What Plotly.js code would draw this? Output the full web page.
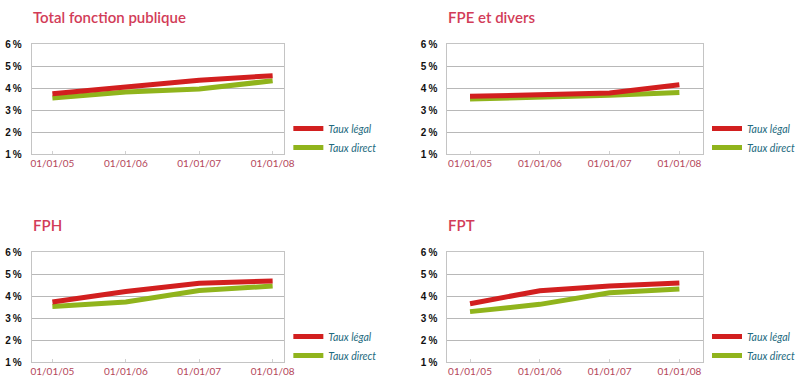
<!DOCTYPE html>
<html><head><meta charset="utf-8">
<script src="https://cdn.plot.ly/plotly-3.0.1.min.js"></script>
<style>html,body{margin:0;padding:0;background:#fff}#chart{width:800px;height:385px}</style>
</head><body><div id="chart"></div>
<script>
// Data
const dates = ["01/01/05", "01/01/06", "01/01/07", "01/01/08"];
const panelTitles = ["Total fonction publique", "FPE et divers", "FPH", "FPT"];
const seriesNames = ["Taux légal", "Taux direct"];
const totalLegal  = [3.74, 4.05, 4.35, 4.56];
const totalDirect = [3.55, 3.82, 3.95, 4.33];
const fpeLegal    = [3.62, 3.70, 3.77, 4.15];
const fpeDirect   = [3.50, 3.58, 3.67, 3.80];
const fphLegal    = [3.73, 4.20, 4.58, 4.68];
const fphDirect   = [3.52, 3.73, 4.25, 4.45];
const fptLegal    = [3.65, 4.24, 4.45, 4.59];
const fptDirect   = [3.29, 3.62, 4.15, 4.32];
const yTicks = [1, 2, 3, 4, 5, 6];
const yTickText = ["1\u2009%", "2\u2009%", "3\u2009%", "4\u2009%", "5\u2009%", "6\u2009%"];

const legalSets = [totalLegal, fpeLegal, fphLegal, fptLegal];
const directSets = [totalDirect, fpeDirect, fphDirect, fptDirect];

const W = 800, H = 385;
const RED = "#d21f1f", GREEN = "#90b41c";
const FONT = "Lato, 'Noto Sans', sans-serif";

// panel pixel boxes [x0, x1, yTop, yBottom]
const boxes = [[32, 288, 44, 154], [453, 712, 44, 154], [32, 288, 252, 362], [453, 712, 252, 362]];
const xr = [[-0.283, 3.16], [-0.325, 3.34], [-0.283, 3.16], [-0.325, 3.34]];

const traces = [];
const layout = {
  width: W, height: H, margin: {l: 0, r: 0, t: 0, b: 0},
  paper_bgcolor: "#fff", plot_bgcolor: "#fff",
  font: {family: FONT},
  annotations: [], showlegend: true
};

boxes.forEach((b, i) => {
  const n = i + 1;
  const xa = n === 1 ? "xaxis" : "xaxis" + n;
  const ya = n === 1 ? "yaxis" : "yaxis" + n;
  const xs = n === 1 ? "x" : "x" + n;
  const ys = n === 1 ? "y" : "y" + n;
  const lg = n === 1 ? "legend" : "legend" + n;
  layout[xa] = {
    domain: [b[0] / W, b[1] / W], anchor: ys, type: "category",
    range: xr[i], showgrid: false, showline: true, mirror: true,
    linecolor: "#c4c4c4", linewidth: 1, ticks: "inside", ticklen: 3, tickcolor: "#d0d0d0",
    tickfont: {size: 10, color: "#b4465a", family: FONT}, zeroline: false, fixedrange: true
  };
  layout[ya] = {
    domain: [(H - b[3]) / H, (H - b[2]) / H], anchor: xs,
    range: [1, 6], tickvals: yTicks, ticktext: yTickText,
    showgrid: true, gridcolor: "#b8b8b8", gridwidth: 1,
    showline: true, mirror: true, linecolor: "#c4c4c4", linewidth: 1,
    ticks: "", ticklabelstandoff: 7,
    tickfont: {size: 10, color: "#111", family: "'Liberation Sans', Arial, sans-serif", weight: "bold"},
    zeroline: false, fixedrange: true
  };
  layout[lg] = {
    x: (b[1] + 4) / W, xanchor: "left", y: (H - (b[2] + 70)) / H, yanchor: "top",
    bgcolor: "rgba(0,0,0,0)", font: {size: 10.5, color: "#236a7e", family: FONT, style: "italic"},
    itemwidth: 30, tracegroupgap: 0
  };
  traces.push({
    x: dates, y: directSets[i], xaxis: xs, yaxis: ys, type: "scatter", mode: "lines",
    name: seriesNames[1], legend: lg, legendrank: 2,
    line: {color: GREEN, width: 5}, hoverinfo: "skip"
  });
  traces.push({
    x: dates, y: legalSets[i], xaxis: xs, yaxis: ys, type: "scatter", mode: "lines",
    name: seriesNames[0], legend: lg, legendrank: 1,
    line: {color: RED, width: 5}, hoverinfo: "skip"
  });
  layout.annotations.push({
    text: panelTitles[i], xref: "paper", yref: "paper",
    x: (b[0] - 1) / W, xanchor: "left", y: (H - (b[2] - 27)) / H, yanchor: "middle",
    showarrow: false, font: {size: 15, color: "#d23c58", family: FONT, weight: 600}
  });
});

Plotly.newPlot("chart", traces, layout, {displayModeBar: false, staticPlot: true});
</script></body></html>
